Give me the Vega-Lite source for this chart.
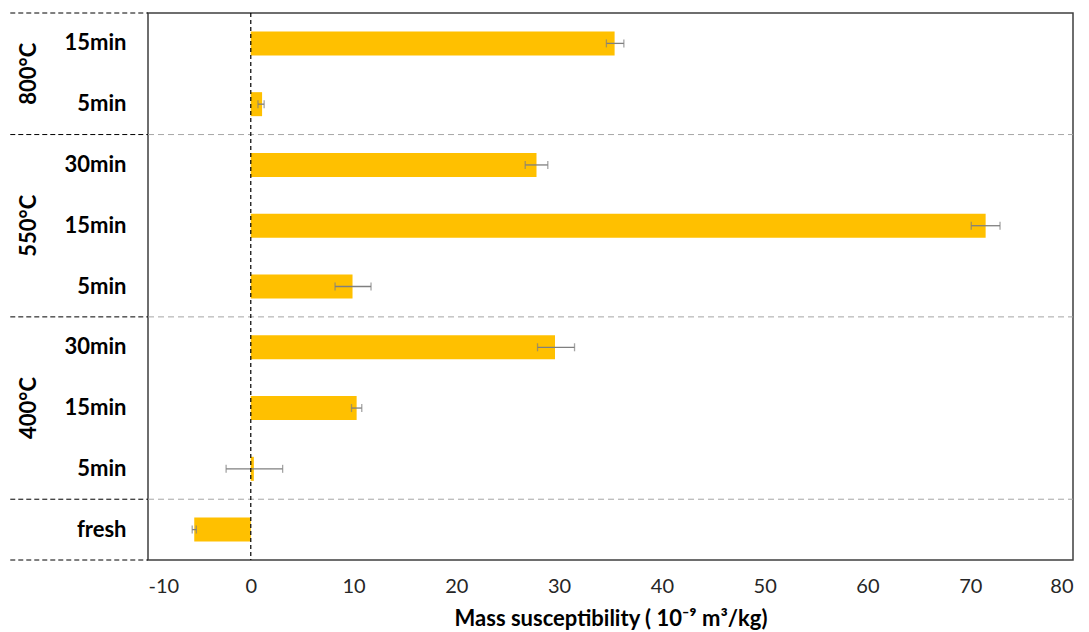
{
  "$schema": "https://vega.github.io/schema/vega-lite/v6.json",
  "autosize": {"type": "none"},
  "width": 925,
  "height": 547,
  "padding": {"left": 148, "top": 13, "right": 16, "bottom": 72},
  "background": "white",
  "config": {
    "view": {"stroke": "#3f3f3f", "strokeWidth": 1.5},
    "font": "Lato"
  },
  "datasets": {
    "bars": [
      {"id": "800|15min", "value": 35.4, "lo": 34.6, "hi": 36.3},
      {"id": "800|5min", "value": 1.1, "lo": 0.7, "hi": 1.3},
      {"id": "550|30min", "value": 27.8, "lo": 26.7, "hi": 28.9},
      {"id": "550|15min", "value": 71.5, "lo": 70.1, "hi": 72.9},
      {"id": "550|5min", "value": 9.9, "lo": 8.2, "hi": 11.7},
      {"id": "400|30min", "value": 29.6, "lo": 27.9, "hi": 31.5},
      {"id": "400|15min", "value": 10.3, "lo": 9.8, "hi": 10.8},
      {"id": "400|5min", "value": 0.3, "lo": -2.4, "hi": 3.1},
      {"id": "fresh|fresh", "value": -5.5, "lo": -5.7, "hi": -5.3}
    ],
    "seps": [{"pos": 1}, {"pos": 4}, {"pos": 7}],
    "edges": [{"pos": 0}, {"pos": 1}, {"pos": 4}, {"pos": 7}, {"pos": 9}],
    "groups": [
      {"label": "800°C", "pos": 8},
      {"label": "550°C", "pos": 5.5},
      {"label": "400°C", "pos": 2.5}
    ]
  },
  "resolve": {"scale": {"y": "independent"}, "axis": {"y": "independent"}},
  "layer": [
    {
      "data": {"name": "bars"},
      "mark": {"type": "bar", "color": "#FFC000", "size": 24},
      "encoding": {
        "y": {
          "field": "id", "type": "nominal",
          "sort": ["800|15min", "800|5min", "550|30min", "550|15min", "550|5min", "400|30min", "400|15min", "400|5min", "fresh|fresh"],
          "scale": {"paddingInner": 0, "paddingOuter": 0},
          "axis": {
            "title": null, "domain": false, "ticks": false,
            "labelExpr": "split(datum.label, '|')[1]",
            "labelFontSize": 22, "labelFontWeight": "bold", "labelColor": "#000000",
            "labelPadding": 22, "labelFont": "Lato"
          }
        },
        "x": {
          "field": "value", "type": "quantitative",
          "scale": {"domain": [-10, 80], "nice": false, "zero": false},
          "axis": {
            "values": [-10, 0, 10, 20, 30, 40, 50, 60, 70, 80],
            "labelExpr": "'' + datum.value",
            "grid": false, "ticks": false, "domain": false,
            "labelFontSize": 20, "labelColor": "#262626", "labelPadding": 16,
            "title": "Mass susceptibility ( 10⁻⁹ m³/kg)",
            "titleFontSize": 22, "titleFontWeight": "bold", "titleColor": "#000000",
            "titlePadding": 12, "labelFont": "Lato", "titleFont": "Lato"
          }
        }
      }
    },
    {
      "data": {"name": "bars"},
      "mark": {"type": "rule", "color": "#7f7f7f", "strokeWidth": 1.3},
      "encoding": {
        "y": {"field": "id", "type": "nominal", "axis": null,
          "sort": ["800|15min", "800|5min", "550|30min", "550|15min", "550|5min", "400|30min", "400|15min", "400|5min", "fresh|fresh"],
          "scale": {"paddingInner": 0, "paddingOuter": 0}},
        "x": {"field": "lo", "type": "quantitative"},
        "x2": {"field": "hi"}
      }
    },
    {
      "data": {"name": "bars"},
      "transform": [{"fold": ["lo", "hi"], "as": ["k", "end"]}],
      "mark": {"type": "tick", "orient": "vertical", "color": "#7f7f7f", "size": 8, "thickness": 1.3},
      "encoding": {
        "y": {"field": "id", "type": "nominal", "axis": null,
          "sort": ["800|15min", "800|5min", "550|30min", "550|15min", "550|5min", "400|30min", "400|15min", "400|5min", "fresh|fresh"],
          "scale": {"paddingInner": 0, "paddingOuter": 0}},
        "x": {"field": "end", "type": "quantitative"}
      }
    },
    {
      "data": {"name": "seps"},
      "mark": {"type": "rule", "color": "#a6a6a6", "strokeWidth": 1, "strokeDash": [6, 4]},
      "encoding": {
        "y": {"field": "pos", "type": "quantitative", "axis": null, "scale": {"domain": [0, 9], "nice": false, "zero": false}},
        "x": {"datum": -10, "type": "quantitative"},
        "x2": {"datum": 80}
      }
    },
    {
      "data": {"name": "edges"},
      "mark": {"type": "rule", "color": "#000000", "strokeWidth": 1, "strokeDash": [5, 3], "clip": false},
      "encoding": {
        "y": {"field": "pos", "type": "quantitative", "axis": null, "scale": {"domain": [0, 9], "nice": false, "zero": false}},
        "x": {"datum": -23.4, "type": "quantitative"},
        "x2": {"datum": -10}
      }
    },
    {
      "data": {"values": [{"x": 0}]},
      "mark": {"type": "rule", "color": "#000000", "strokeWidth": 1.2, "strokeDash": [4, 3]},
      "encoding": {
        "x": {"field": "x", "type": "quantitative"}
      }
    },
    {
      "data": {"name": "groups"},
      "mark": {"type": "text", "angle": 270, "fontSize": 22, "fontWeight": "bold", "color": "#000000", "align": "center", "baseline": "middle", "font": "Lato"},
      "encoding": {
        "y": {"field": "pos", "type": "quantitative", "axis": null, "scale": {"domain": [0, 9], "nice": false, "zero": false}},
        "x": {"datum": -21.6, "type": "quantitative"},
        "text": {"field": "label"}
      }
    }
  ]
}
